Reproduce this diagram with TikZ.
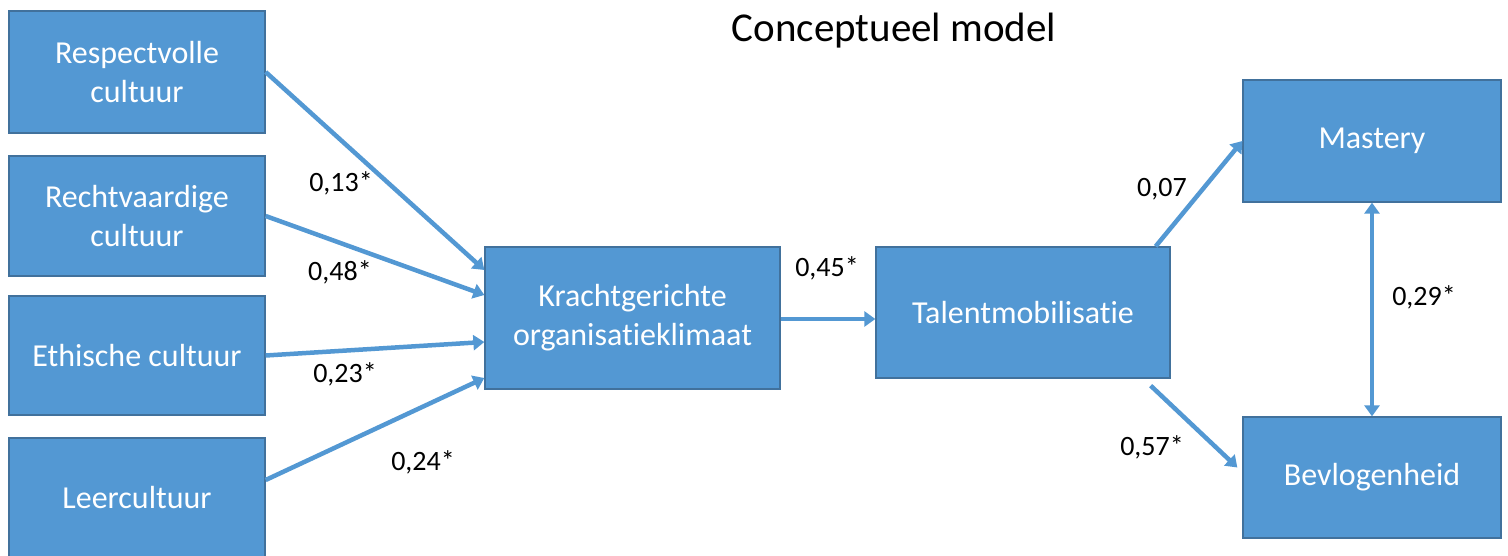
\documentclass[tikz,border=0pt]{standalone}
\usepackage{fontspec}
\setmainfont{Carlito}[Ligatures={NoCommon}]
\usetikzlibrary{arrows.meta}
\definecolor{boxfill}{HTML}{5398D3}
\definecolor{boxline}{HTML}{41719C}
\tikzset{
  box/.style={rectangle, fill=boxfill, draw=boxline, line width=1.3pt,
    text=white, align=center, inner sep=0pt,
    font=\fontsize{32}{39}\selectfont},
  link/.style={draw=boxfill, line width=4.5pt,
    -{Triangle[length=11pt,width=15pt]}},
  both/.style={draw=boxfill, line width=4.5pt,
    {Triangle[length=11pt,width=15pt]}-{Triangle[length=11pt,width=15pt]}},
  coef/.style={inner sep=0pt, font=\fontsize{28}{32}\selectfont},
}
\begin{document}
\begin{tikzpicture}[x=1pt,y=-1pt]
\useasboundingbox (0,0) rectangle (1508,556);
\clip (0,0) rectangle (1508,556);

% title
\node[inner sep=0pt, font=\fontsize{41}{48}\selectfont] (title) at (894,31) {Conceptueel model};

% culture boxes
\node[box, minimum width=256pt, minimum height=122pt] (resp) at (137,72) {Respectvolle\\cultuur};
\node[box, minimum width=256pt, minimum height=120pt] (recht) at (137,216) {Rechtvaardige\\cultuur};
\node[box, minimum width=256pt, minimum height=119pt] (eth) at (137,355.5) {Ethische cultuur};
\node[box, minimum width=256pt, minimum height=120pt] (leer) at (137,498) {Leercultuur};

% climate and mobilisation
\node[box, minimum width=295pt, minimum height=142pt] (klim) at (632.5,318) {Krachtgerichte\\organisatieklimaat};
\node[box, minimum width=294pt, minimum height=131pt] (talent) at (1023,312.5) {Talentmobilisatie};

% outcomes
\node[box, minimum width=258pt, minimum height=122pt] (mast) at (1372,141) {Mastery};
\node[box, minimum width=258pt, minimum height=121pt] (bev) at (1372,477.5) {Bevlogenheid};

% connectors
\draw[link] (resp.east) -- ([yshift=48pt]klim.west);
\draw[link] (recht.east) -- ([yshift=23pt]klim.west);
\draw[link] (eth.east) -- ([yshift=-24pt]klim.west);
\draw[link] ([yshift=18pt]leer.east) -- ([yshift=-60pt]klim.west);
\draw[link] ([yshift=-1pt]klim.east) -- ([yshift=-1pt]klim.east -| talent.west);
\draw[link] ([xshift=-15pt]talent.north east) -- (mast.west);
\coordinate (tdown) at ([xshift=-20pt,yshift=-7pt]talent.south east);
\draw[link] (tdown) -- ([xshift=-5pt,yshift=10pt]bev.west);
\draw[both] (mast.south) -- (bev.north);

% path coefficients
\node[coef] (c1) at (341,183) {0,13*};
\node[coef] (c2) at (340,272) {0,48*};
\node[coef] (c3) at (345,374) {0,23*};
\node[coef] (c4) at (423,462) {0,24*};
\node[coef] (c5) at (827,268) {0,45*};
\node[coef] (c6) at (1162,189) {0,07};
\node[coef] (c7) at (1152,447) {0,57*};
\node[coef] (c8) at (1424,297) {0,29*};
\end{tikzpicture}
\end{document}
